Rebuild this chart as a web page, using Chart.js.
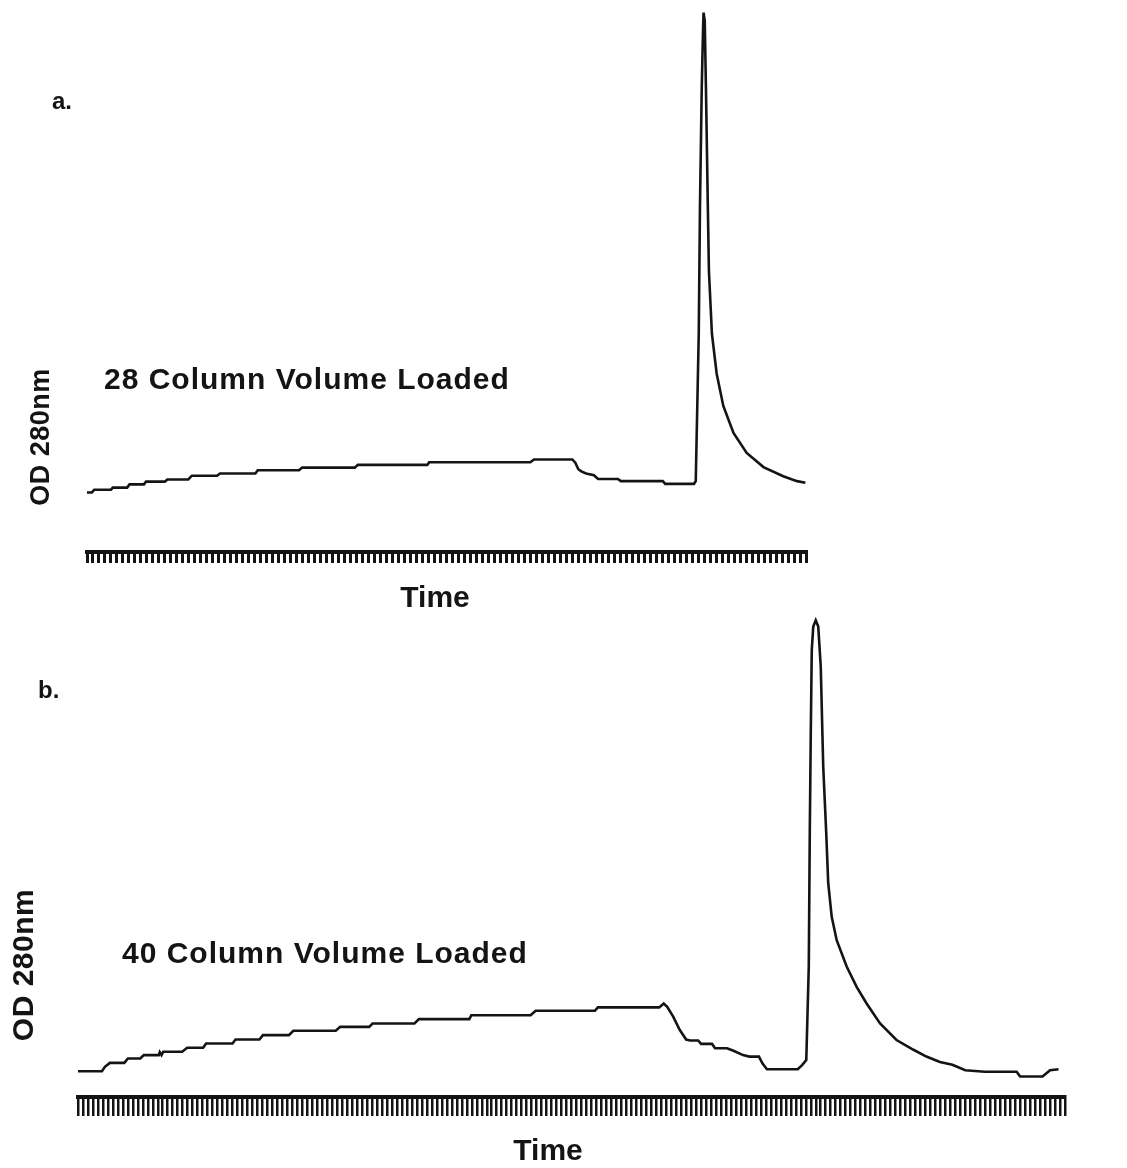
<!DOCTYPE html>
<html>
<head>
<meta charset="utf-8">
<title>OD 280nm - column load</title>
<script src="https://cdn.jsdelivr.net/npm/chart.js@4.4.1/dist/chart.umd.min.js"></script>
<style>
    html, body { margin:0; padding:0; background:#ffffff; }
    #page { position:relative; width:1127px; height:1168px; overflow:hidden; }
    canvas { position:absolute; left:0; }
</style>
</head>
<body>
<div id="page">
    <canvas id="chartA" width="1127" height="620" style="top:0px"></canvas>
    <canvas id="chartB" width="1127" height="568" style="top:600px"></canvas>
</div>
<script>
// ---- panel a : 28 column volumes loaded ----
// time in fraction ticks, OD in arbitrary units
const timeA = [0, 0.8, 1.2, 4.0, 4.3, 6.7, 7.1, 9.5, 9.85, 13.0, 13.4, 16.9, 17.5, 21.7, 22.2, 28.1,
    28.5, 35.4, 35.9, 44.7, 45.2, 56.8, 57.1, 74.0, 74.6, 81.0, 81.5, 82.0, 82.5, 83.3, 84.6, 85.3,
    88.6, 89.1, 96.1, 96.5, 101.3, 101.6, 102.1, 102.3, 102.6, 102.8, 102.9, 103.1, 103.3, 103.6,
    103.8, 104.3, 105.1, 106.2, 107.9, 110.1, 112.9, 116.2, 118.5, 119.9];
const odA = [0.110, 0.110, 0.115, 0.115, 0.119, 0.119, 0.125, 0.125, 0.130, 0.130, 0.134, 0.134,
    0.141, 0.141, 0.145, 0.145, 0.151, 0.151, 0.156, 0.156, 0.161, 0.161, 0.166, 0.166, 0.171, 0.171,
    0.165, 0.153, 0.149, 0.145, 0.142, 0.135, 0.135, 0.131, 0.131, 0.126, 0.126, 0.131, 0.403, 0.636,
    0.858, 0.957, 0.997, 0.982, 0.858, 0.649, 0.519, 0.403, 0.329, 0.270, 0.220, 0.183, 0.157, 0.140,
    0.131, 0.128];
const fractionsA = 120;

// ---- panel b : 40 column volumes loaded ----
const timeB = [0, 4.8, 5.4, 6.4, 9.3, 10.0, 12.5, 13.2, 16.2, 16.4, 16.75, 17.1, 20.9, 21.9, 25.1,
    25.7, 31.0, 31.6, 36.4, 37.1, 42.3, 43.2, 51.7, 52.6, 58.4, 59.1, 67.5, 68.4, 78.5, 78.9, 90.8,
    91.8, 103.7, 104.3, 116.6, 117.5, 118.2, 119.4, 120.7, 122.0, 122.8, 124.4, 125.0, 127.2, 127.8,
    130.2, 131.5, 133.4, 134.7, 136.6, 137.3, 138.2, 144.4, 145.3, 146.1, 146.6, 146.8, 147.0, 147.2,
    147.5, 148.0, 148.5, 149.0, 149.5, 150.1, 150.5, 151.2, 152.2, 154.2, 156.2, 158.2, 160.9, 164.2,
    167.6, 170.2, 172.9, 175.4, 178.0, 181.9, 188.3, 189.0, 193.5, 195.0, 196.7];
const odB = [0.053, 0.053, 0.062, 0.070, 0.070, 0.079, 0.079, 0.086, 0.086, 0.092, 0.086, 0.093,
    0.093, 0.101, 0.101, 0.110, 0.110, 0.118, 0.118, 0.127, 0.127, 0.136, 0.136, 0.144, 0.144, 0.151,
    0.151, 0.160, 0.160, 0.168, 0.168, 0.177, 0.177, 0.184, 0.184, 0.192, 0.185, 0.165, 0.138, 0.118,
    0.116, 0.116, 0.109, 0.109, 0.100, 0.100, 0.095, 0.086, 0.083, 0.083, 0.069, 0.057, 0.057, 0.066,
    0.076, 0.268, 0.542, 0.747, 0.918, 0.966, 0.979, 0.966, 0.884, 0.678, 0.542, 0.439, 0.370, 0.322,
    0.268, 0.226, 0.192, 0.151, 0.117, 0.097, 0.083, 0.072, 0.066, 0.055, 0.052, 0.052, 0.042, 0.042,
    0.055, 0.057];
const fractionsB = 198;

const panelNames = ["a.", "b."];
const loadLabels = ["28 Column Volume Loaded", "40 Column Volume Loaded"];
const yTitle = "OD 280nm";
const xTitle = "Time";

const ink = "#141414";

function toPoints(xs, ys) {
    let pts = [];
    for (let i = 0; i < xs.length; i++) {
        pts.push({x: xs[i], y: ys[i]});
    }
    return pts;
}

// draws the panel letter, load label and axis titles on top of the chart
function textPlugin(texts) {
    return {
        id: "panelText",
        afterDraw(chart) {
            const ctx = chart.ctx;
            for (let t of texts) {
                ctx.save();
                ctx.fillStyle = ink;
                ctx.font = "bold " + t.size + "px 'Liberation Sans', Arial, sans-serif";
                ctx.letterSpacing = (t.spacing || 0) + "px";
                if (t.rotate) {
                    ctx.translate(t.x, t.y);
                    ctx.rotate(-Math.PI / 2);
                    ctx.textAlign = "center";
                    ctx.textBaseline = "middle";
                    ctx.fillText(t.text, 0, 0);
                } else {
                    ctx.textAlign = t.align || "left";
                    ctx.textBaseline = "alphabetic";
                    ctx.fillText(t.text, t.x, t.y);
                }
                ctx.restore();
            }
        }
    };
}

function drawPanel(canvas, xs, ys, fractions, pad, tickLen, tickWidth, texts) {
    new Chart(canvas, {
        type: "line",
        data: {
            datasets: [{
                data: toPoints(xs, ys),
                borderColor: ink,
                borderWidth: 2.6,
                pointRadius: 0,
                tension: 0,
                fill: false,
                clip: false
            }]
        },
        options: {
            responsive: false,
            animation: false,
            devicePixelRatio: 1,
            layout: {padding: pad},
            plugins: {
                legend: {display: false},
                tooltip: {enabled: false}
            },
            scales: {
                x: {
                    type: "linear",
                    min: 0,
                    max: fractions,
                    border: {display: true, color: ink, width: 4},
                    grid: {
                        display: true,
                        drawOnChartArea: false,
                        drawTicks: true,
                        tickLength: tickLen,
                        color: ink,
                        lineWidth: tickWidth
                    },
                    ticks: {display: false, stepSize: 1, autoSkip: false}
                },
                y: {
                    display: false,
                    min: 0,
                    max: 1
                }
            }
        },
        plugins: [textPlugin(texts)]
    });
}

drawPanel(document.getElementById("chartA"), timeA, odA, fractionsA,
    {left: 87, right: 321, top: 11, bottom: 57}, 11, 3,
    [
        {text: panelNames[0], x: 52, y: 109, size: 24},
        {text: loadLabels[0], x: 104, y: 389, size: 30, spacing: 1},
        {text: xTitle, x: 435, y: 607, size: 30, align: "center"},
        {text: yTitle, x: 42, y: 437, size: 27, spacing: 0.5, rotate: true}
    ]);

drawPanel(document.getElementById("chartB"), timeB, odB, fractionsB,
    {left: 78, right: 62, top: 10, bottom: 52}, 19, 2.5,
    [
        {text: panelNames[1], x: 38, y: 98, size: 24},
        {text: loadLabels[1], x: 122, y: 363, size: 30, spacing: 1},
        {text: xTitle, x: 548, y: 560, size: 30, align: "center"},
        {text: yTitle, x: 25, y: 365, size: 30, spacing: 0.5, rotate: true}
    ]);
</script>
</body>
</html>
